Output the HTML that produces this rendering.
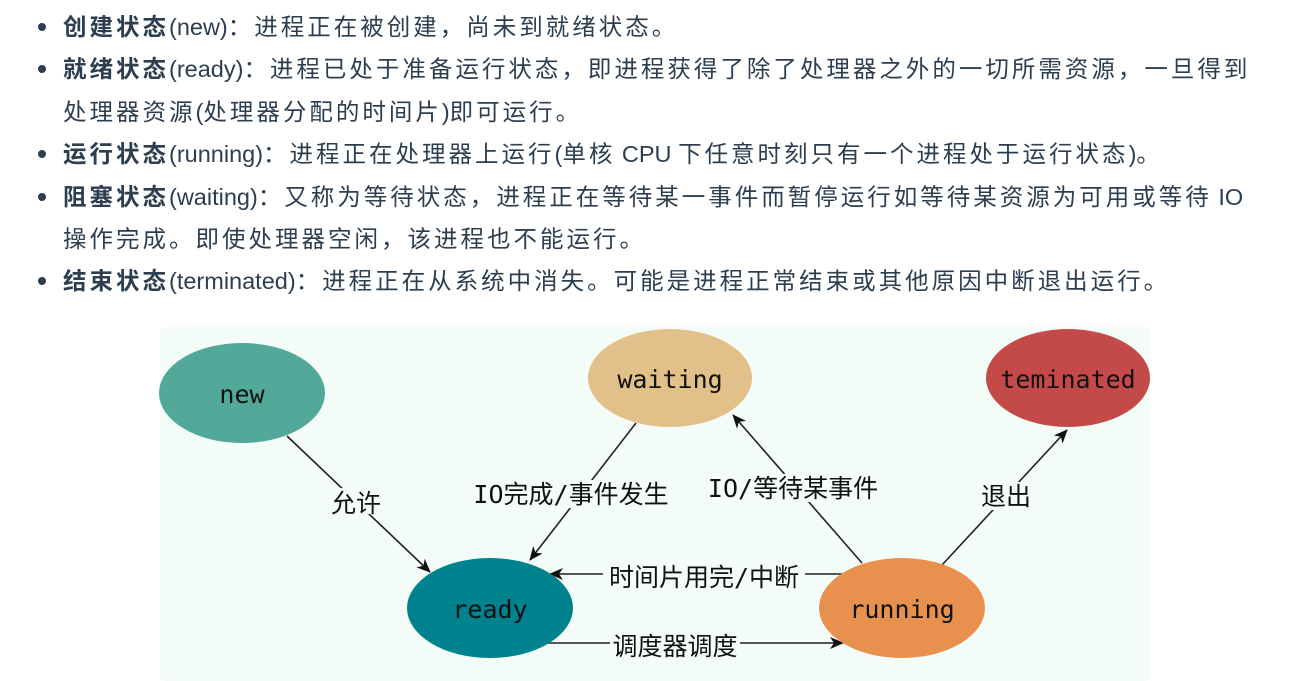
<!DOCTYPE html>
<html><head><meta charset="utf-8"><style>
body{margin:0;width:1290px;height:681px;background:#fff;overflow:hidden;font-family:"Liberation Sans","Noto Sans CJK SC",sans-serif;color:#2c3e50}
ul{margin:0;padding:0;position:absolute;left:0;top:6px;list-style:none}
li{position:relative;padding-left:63px;font-size:23.5px;line-height:42.4px;width:1220px;letter-spacing:3px;white-space:nowrap}
li:before{content:"";position:absolute;left:38px;top:17px;width:8px;height:8px;border-radius:50%;background:#2c3e50}
b{font-weight:bold;letter-spacing:3px}
i{font-style:normal;letter-spacing:0}
svg{position:absolute;left:0;top:0}
</style></head><body>
<ul>
<li><b>创建状态</b><i>(new)</i>：进程正在被创建，尚未到就绪状态。</li>
<li><b>就绪状态</b><i>(ready)</i>：进程已处于准备运行状态，即进程获得了除了处理器之外的一切所需资源，一旦得到<br>处理器资源<i>(</i>处理器分配的时间片<i>)</i>即可运行。</li>
<li><b>运行状态</b><i>(running)</i>：进程正在处理器上运行<i>(</i>单核<i> CPU </i>下任意时刻只有一个进程处于运行状态<i>)</i>。</li>
<li><b>阻塞状态</b><i>(waiting)</i>：又称为等待状态，进程正在等待某一事件而暂停运行如等待某资源为可用或等待<i> IO</i><br>操作完成。即使处理器空闲，该进程也不能运行。</li>
<li><b>结束状态</b><i>(terminated)</i>：进程正在从系统中消失。可能是进程正常结束或其他原因中断退出运行。</li>
</ul>
<svg width="1290" height="681">
<defs><marker id="a" markerWidth="14" markerHeight="12" refX="13" refY="6" orient="auto" markerUnits="userSpaceOnUse"><path d="M0,0 L14,6 L0,12 L4,6z" fill="#111"/></marker></defs>
<rect x="160" y="327" width="990" height="354" rx="6" fill="#f3fcf6"/>
<g stroke="#222" stroke-width="1.6" fill="none">
<line x1="287" y1="436" x2="430" y2="572" marker-end="url(#a)"/>
<line x1="636" y1="423" x2="530" y2="560" marker-end="url(#a)"/>
<line x1="862" y1="563" x2="733" y2="415" marker-end="url(#a)"/>
<line x1="942" y1="565" x2="1067" y2="430" marker-end="url(#a)"/>
<line x1="845" y1="574" x2="550" y2="574" marker-end="url(#a)"/>
<line x1="545" y1="643" x2="843" y2="643" marker-end="url(#a)"/>
</g>
<g fill="#f3fcf6">
<rect x="330" y="488" width="52" height="26"/>
<rect x="468" y="480" width="206" height="28"/>
<rect x="704" y="474" width="178" height="28"/>
<rect x="980" y="482" width="52" height="28"/>
<rect x="603" y="562" width="202" height="28"/>
<rect x="610" y="631" width="130" height="28"/>
</g>
<ellipse cx="242" cy="393" rx="83" ry="50" fill="#52a899"/>
<ellipse cx="670" cy="378" rx="82" ry="49" fill="#e2c08a"/>
<ellipse cx="1068" cy="378" rx="82" ry="49" fill="#c44a4a"/>
<ellipse cx="490" cy="608" rx="83" ry="50" fill="#00838f"/>
<ellipse cx="902" cy="608" rx="83" ry="50" fill="#e8914f"/>
<g font-family="'DejaVu Sans Mono','Noto Sans CJK SC',monospace" font-size="25" fill="#111" text-anchor="middle">
<text x="242" y="403">new</text>
<text x="670" y="388">waiting</text>
<text x="1068" y="388">teminated</text>
<text x="490" y="618">ready</text>
<text x="902" y="618">running</text>
<text x="356" y="512">允许</text>
<text x="571" y="503">IO完成/事件发生</text>
<text x="793" y="497">IO/等待某事件</text>
<text x="1006" y="505">退出</text>
<text x="704" y="586">时间片用完/中断</text>
<text x="675" y="655">调度器调度</text>
</g>
</svg>
</body></html>
